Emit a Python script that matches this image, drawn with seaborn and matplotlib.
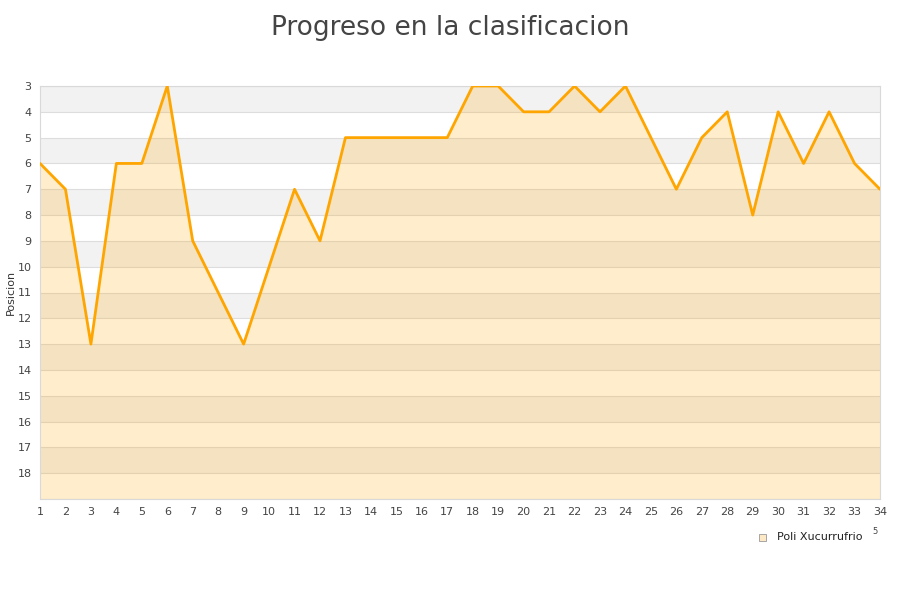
import matplotlib
matplotlib.use("Agg")
import matplotlib.pyplot as plt
import seaborn as sns
import pandas as pd

# jornadas y posicion
jornadas = list(range(1, 35))
posicion = [6, 7, 13, 6, 6, 3, 9, 11, 13, 10, 7, 9, 5, 5, 5, 5, 5, 3, 3, 4,
            4, 3, 4, 3, 5, 7, 5, 4, 8, 4, 6, 4, 6, 7]
equipo = "Poli Xucurrufrio"
titulo = "Progreso en la clasificacion"
y_ticks = list(range(3, 19))

df = pd.DataFrame({"Jornada": jornadas, "Posicion": posicion})

sns.set_style("white")
plt.rcParams['font.family'] = ['DejaVu Sans']

fig = plt.figure(figsize=(9, 6), dpi=100)
ax = fig.add_axes([40 / 900, 1 - 499 / 600, 840 / 900, 413 / 600])

# alternating background bands
for k in range(3, 19):
    if (k - 3) % 2 == 0:
        ax.axhspan(k, k + 1, color="#f2f2f2", zorder=0, lw=0)
for k in range(3, 20):
    ax.axhline(k, color="#dddddd", lw=0.8, zorder=0.5)

ax.fill_between(df["Jornada"], df["Posicion"], 19, color="#ffa500", alpha=0.2,
                lw=0, zorder=1)
sns.lineplot(data=df, x="Jornada", y="Posicion", ax=ax, color="#ffa500",
             lw=2.0, zorder=3)

ax.set_xlim(1, 34)
ax.set_ylim(19, 3)
ax.set_xticks(jornadas)
ax.set_yticks(y_ticks)
ax.tick_params(axis="both", labelsize=8, colors="#444444", length=0, pad=6)
ax.set_xlabel("")
ax.set_ylabel("")
for s in ax.spines.values():
    s.set_color("#d9d9d9")
    s.set_linewidth(0.8)

fig.text(11 / 900, 1 - 292 / 600, "Posicion", rotation=90, ha="center",
         va="center", fontsize=8, color="#333333")
fig.text(0.5, 0.975, titulo, ha="center", va="top", fontsize=19, color="#444444")

# legend
fig.patches.append(plt.Rectangle((759 / 900, 1 - 541 / 600), 7 / 900, 7 / 600,
                                 transform=fig.transFigure, facecolor="#fde9c6",
                                 edgecolor="#999999", lw=0.6))
fig.text(777 / 900, 1 - 537 / 600, equipo, ha="left", va="center", fontsize=8,
         color="#222222")
fig.text(875 / 900, 1 - 532 / 600, "5", ha="center", va="center", fontsize=6,
         color="#444444")

fig.savefig("out.png", dpi=100)
